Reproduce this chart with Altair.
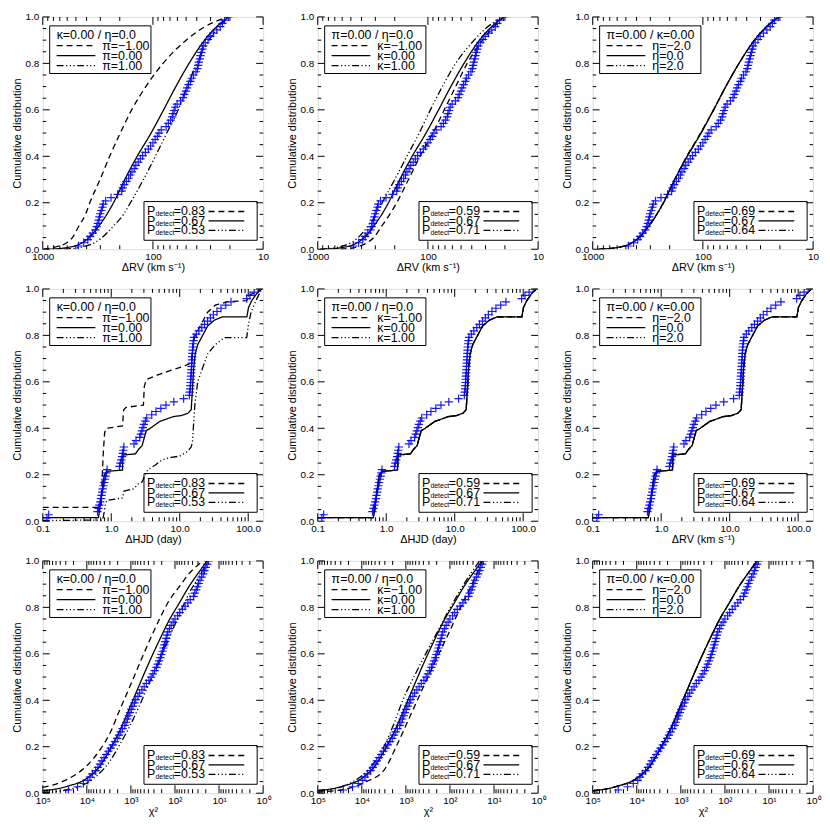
import altair as alt
import pandas as pd

W, H = 222, 234
FONT = "Liberation Sans"
BLUE = "#0000ff"

# ---------------- Row 1 : Delta RV (km/s) ----------------
RV_LEVELS = [0.0, 0.01, 0.03, 0.05, 0.10, 0.15, 0.20, 0.30, 0.40, 0.50, 0.60, 0.70, 0.80, 0.90, 0.95, 1.00]
RV_SOLID = [870, 560, 430, 380, 310, 262, 228, 180, 139, 104, 80, 62, 47, 34, 27.5, 20.5]
RV_PI_M1 = [985, 760, 597, 538, 470, 409, 374, 302, 247, 198, 156, 116, 81, 50, 36, 21.3]
RV_PI_P1 = [640, 438, 332, 290, 228, 185, 160, 122, 95, 75, 59, 49, 40, 31, 26, 20.5]
RV_KAPPA_M1 = [620, 440, 350, 310, 262, 222, 192, 150, 118, 90, 71, 56, 44, 32, 26, 20.6]
RV_KAPPA_P1 = [950, 640, 490, 430, 350, 295, 260, 200, 155, 120, 95, 74, 56, 38, 30, 20.6]
RV_ETA_M2 = [880, 565, 432, 382, 312, 263, 229, 181, 140, 105, 80, 62, 47, 34, 27.5, 20.5]
RV_ETA_P2 = [860, 555, 428, 378, 308, 261, 227, 179, 138, 104, 80, 62, 47, 34, 27.5, 20.5]
RV_OBS = [475, 425, 390, 371, 351, 333, 324, 316, 310, 306, 301, 294, 287, 282, 269, 240,
          209, 192, 188, 182, 174, 166, 160, 155, 148, 143, 136, 130, 124, 117, 110, 105,
          100, 95.5, 91.2, 88.1, 84.1, 75.9, 72.4, 69.2, 66.8, 65.8, 64.3, 62.8, 60.3, 56.2,
          53.3, 51.9, 50.1, 49.0, 47.5, 45.7, 44.5, 42.7, 40.7, 39.5, 38.9, 38.3, 37.6, 37.0,
          36.3, 35.6, 34.9, 33.5, 31.6, 30.2, 28.2, 26.3, 24.5, 23.4, 22.4, 20.6]

# ---------------- Row 2 : Delta HJD (days) ----------------
HJD_SOLID_X = [0.1, 0.65, 0.68, 0.71, 0.75, 0.79, 0.87, 1.46, 1.49, 2.26, 2.52, 2.82, 3.04, 3.25,
               3.71, 4.37, 5.16, 6.44, 8.0, 10.6, 13.2, 14.7, 15.2, 15.9, 16.8, 18.3, 21.6, 25.5,
               31.8, 41.9, 95.5, 101, 113, 133, 157]
HJD_SOLID_Y = [0.015, 0.015, 0.05, 0.10, 0.15, 0.20, 0.215, 0.22, 0.285, 0.29, 0.31, 0.325, 0.36, 0.39,
               0.40, 0.415, 0.43, 0.44, 0.45, 0.455, 0.465, 0.48, 0.55, 0.65, 0.72, 0.76, 0.80, 0.84,
               0.865, 0.88, 0.88, 0.92, 0.95, 0.98, 1.0]
HJD_PI_M1_X = [0.1, 0.71, 0.73, 0.76, 0.80, 0.84, 1.46, 1.52, 1.65, 2.95, 3.04, 3.25, 4.8, 7.5,
               11, 14.5, 15.2, 15.8, 16.8, 18.3, 21.6, 25.5, 33, 50, 95.5, 101, 125, 157]
HJD_PI_M1_Y = [0.06, 0.06, 0.15, 0.28, 0.38, 0.40, 0.41, 0.48, 0.49, 0.50, 0.58, 0.61, 0.63, 0.65,
               0.665, 0.68, 0.72, 0.77, 0.80, 0.82, 0.86, 0.90, 0.93, 0.945, 0.95, 0.97, 0.985, 1.0]
HJD_PI_P1_X = [0.1, 0.75, 0.79, 0.83, 0.87, 1.46, 1.54, 2.15, 2.45, 2.85, 3.1, 3.4, 4.3, 5.6, 7.5, 10,
               13, 14.7, 15.3, 15.8, 16.6, 18.3, 21.6, 25.5, 33, 45, 95, 101, 110, 130, 157]
HJD_PI_P1_Y = [0.003, 0.005, 0.04, 0.08, 0.09, 0.10, 0.13, 0.14, 0.16, 0.17, 0.20, 0.22, 0.24, 0.265,
               0.275, 0.28, 0.30, 0.32, 0.34, 0.40, 0.50, 0.60, 0.66, 0.72, 0.76, 0.79, 0.79, 0.85,
               0.90, 0.95, 1.0]
HJD_OBS = [0.115, 0.122,
           0.63, 0.65, 0.67, 0.69, 0.71, 0.72, 0.74, 0.75, 0.77, 0.79, 0.81, 0.83, 0.85, 0.87,
           1.32, 1.36, 1.40, 1.44, 1.47, 1.50, 1.53,
           2.15, 2.3,
           2.6, 2.7, 2.8, 2.9, 3.0, 3.15, 3.3,
           3.9, 4.5, 5.3, 6.3,
           8.2, 11.4,
           13.8, 14.0, 14.2, 14.3, 14.4, 14.5, 14.6, 14.7, 14.8, 14.9, 15.0, 15.1, 15.2, 15.3,
           15.4, 15.5, 15.7, 15.9, 16.2,
           17.5, 19, 21, 23, 25.5, 28, 31, 35, 40, 47, 56,
           95, 106, 122, 140]

# ---------------- Row 3 : chi^2 ----------------
CHI_SOLID_X = [1e5, 27500, 9800, 4900, 2950, 1780, 1050, 630, 372, 224, 135, 79, 48, 29, 18.6]
CHI_SOLID_Y = [0.01, 0.03, 0.065, 0.12, 0.19, 0.27, 0.37, 0.47, 0.57, 0.66, 0.745, 0.82, 0.89, 0.95, 1.0]
CHI_PI_M1_X = [1e5, 27500, 9800, 4900, 2950, 1780, 1050, 630, 372, 224, 135, 79, 48, 29, 23]
CHI_PI_M1_Y = [0.025, 0.06, 0.12, 0.19, 0.26, 0.36, 0.46, 0.56, 0.66, 0.75, 0.83, 0.89, 0.945, 0.985, 1.0]
CHI_PI_P1_X = [1e5, 27500, 9800, 4900, 2950, 1780, 1050, 630, 372, 224, 135, 79, 48, 29, 17.4]
CHI_PI_P1_Y = [0.003, 0.015, 0.045, 0.09, 0.14, 0.21, 0.29, 0.38, 0.48, 0.57, 0.67, 0.77, 0.86, 0.93, 1.0]
CHI_KAPPA_M1_X = [1e5, 20400, 7900, 3100, 1660, 955, 550, 316, 178, 100, 57.5, 31.6, 18.6]
CHI_KAPPA_M1_Y = [0.005, 0.02, 0.05, 0.1, 0.2, 0.3, 0.4, 0.5, 0.6, 0.7, 0.8, 0.9, 1.0]
CHI_KAPPA_P1_X = [1e5, 40700, 15800, 7200, 3160, 1860, 1175, 660, 355, 186, 98, 48, 21.4]
CHI_KAPPA_P1_Y = [0.012, 0.02, 0.05, 0.1, 0.2, 0.3, 0.4, 0.5, 0.6, 0.7, 0.8, 0.9, 1.0]
CHI_OBS = [26300, 16200, 12000, 9500, 8500, 7500, 6300, 5600, 5000, 4570, 4070, 3630, 3240, 2880,
           2570, 2290, 2040, 1860, 1700, 1550, 1380, 1290, 1200, 1120, 1050, 977, 900, 830, 776,
           692, 631, 562, 501, 447, 389, 347, 316, 288, 263, 245, 229, 214, 204, 191, 182, 174,
           166, 158, 151, 145, 133, 122, 110, 100, 87, 78, 68, 59, 51, 45, 38, 35.5, 33, 31, 29,
           27, 24.8, 22.9, 21.4, 20, 18.6, 17.4]

# ---------------- text ----------------
BOX_TITLES = ["κ=0.00  /  η=0.0", "π=0.00  /  η=0.0", "π=0.00  /  κ=0.00"]
ENTRY_LABELS = [["π=−1.00", "π=0.00", "π=1.00"],
                ["κ=−1.00", "κ=0.00", "κ=1.00"],
                ["η=−2.0", "η=0.0", "η=2.0"]]
P_VALUES = [["0.83", "0.67", "0.53"], ["0.59", "0.67", "0.71"], ["0.69", "0.67", "0.64"]]
STYLES = ["dash", "solid", "dotdash"]
X_TITLES = [["ΔRV (km s⁻¹)"] * 3,
            ["ΔHJD (day)", "ΔHJD (day)", "ΔRV (km s⁻¹)"],
            ["χ²"] * 3]
Y_TITLE = "Cumulative distribution"

RV_X_TICKS = [1000, 100, 10]
HJD_X_TICKS = [0.1, 1, 10, 100]
CHI_X_TICKS = [1e5, 1e4, 1e3, 1e2, 1e1, 1]
Y_TICKS = [0.0, 0.2, 0.4, 0.6, 0.8, 1.0]

# ---------------- assemble ----------------
CURVES = [
    [[(RV_PI_M1, RV_LEVELS), (RV_SOLID, RV_LEVELS), (RV_PI_P1, RV_LEVELS)],
     [(RV_KAPPA_M1, RV_LEVELS), (RV_SOLID, RV_LEVELS), (RV_KAPPA_P1, RV_LEVELS)],
     [(RV_ETA_M2, RV_LEVELS), (RV_SOLID, RV_LEVELS), (RV_ETA_P2, RV_LEVELS)]],
    [[(HJD_PI_M1_X, HJD_PI_M1_Y), (HJD_SOLID_X, HJD_SOLID_Y), (HJD_PI_P1_X, HJD_PI_P1_Y)],
     [(HJD_SOLID_X, HJD_SOLID_Y), (HJD_SOLID_X, HJD_SOLID_Y), (HJD_SOLID_X, HJD_SOLID_Y)],
     [(HJD_SOLID_X, HJD_SOLID_Y), (HJD_SOLID_X, HJD_SOLID_Y), (HJD_SOLID_X, HJD_SOLID_Y)]],
    [[(CHI_PI_M1_X, CHI_PI_M1_Y), (CHI_SOLID_X, CHI_SOLID_Y), (CHI_PI_P1_X, CHI_PI_P1_Y)],
     [(CHI_KAPPA_M1_X, CHI_KAPPA_M1_Y), (CHI_SOLID_X, CHI_SOLID_Y), (CHI_KAPPA_P1_X, CHI_KAPPA_P1_Y)],
     [(CHI_SOLID_X, CHI_SOLID_Y), (CHI_SOLID_X, CHI_SOLID_Y), (CHI_SOLID_X, CHI_SOLID_Y)]],
]
OBS = [RV_OBS, HJD_OBS, CHI_OBS]
DESCENDING = [True, False, True]
INTERP = ["monotone", "linear", "monotone"]
XSCALES = [
    dict(type="log", domain=[10, 1000], reverse=True, nice=False),
    dict(type="log", domain=[0.1, 165], nice=False),
    dict(type="log", domain=[1, 1e5], reverse=True, nice=False),
]
XVALUES = [RV_X_TICKS, HJD_X_TICKS, CHI_X_TICKS]
XLABELS = [
    "format(datum.value, 'd')",
    "format(datum.value, '.1f')",
    "'10' + ['⁰','¹','²','³','⁴','⁵'][round(log(datum.value)/LN10)]",
]


def decade_ticks(lo_exp, hi_exp, lo, hi):
    major, minor = [], []
    for e in range(lo_exp, hi_exp + 1):
        base = 10.0 ** e
        if lo <= base <= hi:
            major.append(base)
        for k in range(2, 10):
            v = k * base
            if lo <= v <= hi:
                minor.append(v)
    return major, minor


XTICK_SETS = [decade_ticks(1, 3, 10, 1000), decade_ticks(-1, 2, 0.1, 165), decade_ticks(0, 5, 1, 1e5)]
Y_MINOR = [round(0.05 * i, 2) for i in range(21) if i % 4 != 0]
X_MAJOR_LEN, X_MINOR_LEN = 8, 4
Y_MAJOR_LEN, Y_MINOR_LEN = 7, 3.5

DASH_SCALE = alt.Scale(domain=STYLES, range=[[6, 4], [1, 0], [7, 2.5, 1.2, 2.5, 1.2, 2.5, 1.2, 2.5]])


def panel(r, c):
    xs = alt.Scale(**XSCALES[r])
    ys = alt.Scale(domain=[0, 1], nice=False, zero=False)
    xaxis = alt.Axis(values=XVALUES[r], labelExpr=XLABELS[r], title=X_TITLES[r][c],
                     ticks=False, domain=False, grid=False, labelFlush=False,
                     labelPadding=2, titlePadding=0, labelOverlap=False,
                     titleFontWeight="normal", labelFontWeight="normal")
    yaxis = alt.Axis(values=Y_TICKS, format=".1f", title=Y_TITLE, ticks=False, domain=False,
                     grid=False, labelPadding=4, titlePadding=2,
                     titleFontWeight="normal", labelFontWeight="normal")

    rows = []
    for s, (cx, cy) in zip(STYLES, CURVES[r][c]):
        for i, (a, b) in enumerate(zip(cx, cy)):
            rows.append({"x": a, "y": b, "style": s, "i": i})
    lines = alt.Chart(pd.DataFrame(rows)).mark_line(
        color="black", strokeWidth=1.3, clip=True, interpolate=INTERP[r]).encode(
        x=alt.X("x:Q", scale=xs, axis=xaxis),
        y=alt.Y("y:Q", scale=ys, axis=yaxis),
        strokeDash=alt.StrokeDash("style:N", scale=DASH_SCALE, legend=None),
        detail="style:N",
        order="i:Q",
    )

    vals = sorted(OBS[r], reverse=DESCENDING[r])
    n = len(vals)
    odf = pd.DataFrame({"x": vals, "y": [(k + 1) / n for k in range(n)]})
    crosses = alt.Chart(odf).mark_point(
        shape="M-1,0L1,0M0,-1L0,1", filled=False, size=70, strokeWidth=1.2,
        color=BLUE, opacity=0.9, clip=True).encode(
        x=alt.X("x:Q", scale=xs, axis=None), y=alt.Y("y:Q", scale=ys, axis=None))

    # inward ticks on all four sides
    major, minor = XTICK_SETS[r]
    xt_rows = []
    for v in major + minor:
        L = X_MAJOR_LEN if v in major else X_MINOR_LEN
        xt_rows.append({"x": v, "p0": H, "p1": H - L})
        xt_rows.append({"x": v, "p0": 0, "p1": L})
    yt_rows = []
    for v in Y_TICKS + Y_MINOR:
        L = Y_MAJOR_LEN if v in Y_TICKS else Y_MINOR_LEN
        yt_rows.append({"y": v, "p0": 0, "p1": L})
        yt_rows.append({"y": v, "p0": W, "p1": W - L})
    xticks = alt.Chart(pd.DataFrame(xt_rows)).mark_rule(color="black", strokeWidth=1).encode(
        x=alt.X("x:Q", scale=xs, axis=None),
        y=alt.Y("p0:Q", scale=None, axis=None), y2="p1:Q")
    yticks = alt.Chart(pd.DataFrame(yt_rows)).mark_rule(color="black", strokeWidth=1).encode(
        y=alt.Y("y:Q", scale=ys, axis=None),
        x=alt.X("p0:Q", scale=None, axis=None), x2="p1:Q")

    b2 = H - 48  # top of the lower-right box
    boxes = pd.DataFrame({"bx": [7, 102], "bx2": [109, 216], "by": [9, b2], "by2": [57, b2 + 39]})
    box_layer = alt.Chart(boxes).mark_rect(fill="white", fillOpacity=0, stroke="black", strokeWidth=1).encode(
        x=alt.X("bx:Q", scale=None, axis=None), x2="bx2:Q",
        y=alt.Y("by:Q", scale=None, axis=None), y2="by2:Q")

    lrows = []
    for k, s in enumerate(STYLES):
        lrows.append({"lx": 14, "lx2": 53, "ly": 29 + 10 * k, "style": s})
        lrows.append({"lx": 167, "lx2": 203, "ly": b2 + 10 + 9.5 * k, "style": s})
    leg_lines = alt.Chart(pd.DataFrame(lrows)).mark_rule(color="black", strokeWidth=1.3).encode(
        x=alt.X("lx:Q", scale=None, axis=None), x2="lx2:Q",
        y=alt.Y("ly:Q", scale=None, axis=None),
        strokeDash=alt.StrokeDash("style:N", scale=DASH_SCALE, legend=None))

    trows = [{"tx": 14, "ty": 18.5, "t": BOX_TITLES[c], "fs": 12.5}]
    for k in range(3):
        trows.append({"tx": 60, "ty": 29 + 10 * k, "t": ENTRY_LABELS[c][k], "fs": 12.5})
        yy = b2 + 10 + 9.5 * k
        trows.append({"tx": 105, "ty": yy, "t": "P", "fs": 12.5})
        trows.append({"tx": 113.5, "ty": yy + 3, "t": "detect", "fs": 7})
        trows.append({"tx": 132, "ty": yy, "t": "=" + P_VALUES[c][k], "fs": 12.5})
    leg_text = alt.Chart(pd.DataFrame(trows)).mark_text(
        align="left", baseline="middle", font=FONT, color="black").encode(
        x=alt.X("tx:Q", scale=None, axis=None), y=alt.Y("ty:Q", scale=None, axis=None),
        text="t:N", size=alt.Size("fs:Q", scale=None))

    return alt.layer(
        xticks, yticks, lines, crosses, box_layer, leg_lines, leg_text
    ).resolve_scale(x="independent", y="independent").properties(width=W, height=H)


panels = [panel(r, c) for r in range(3) for c in range(3)]
chart = alt.concat(*panels, columns=3, spacing={"row": 40, "column": 55}, bounds="flush").properties(
    padding={"left": 3, "top": 0, "right": 0, "bottom": 0}
).configure_view(stroke="black", strokeWidth=1).configure_axis(
    labelFont=FONT, titleFont=FONT, labelFontSize=8, titleFontSize=8,
    titleFontWeight="normal", labelColor="black", titleColor="black"
).configure(background="white")

chart.save("out.html", embed_options={"renderer": "svg", "actions": False})
